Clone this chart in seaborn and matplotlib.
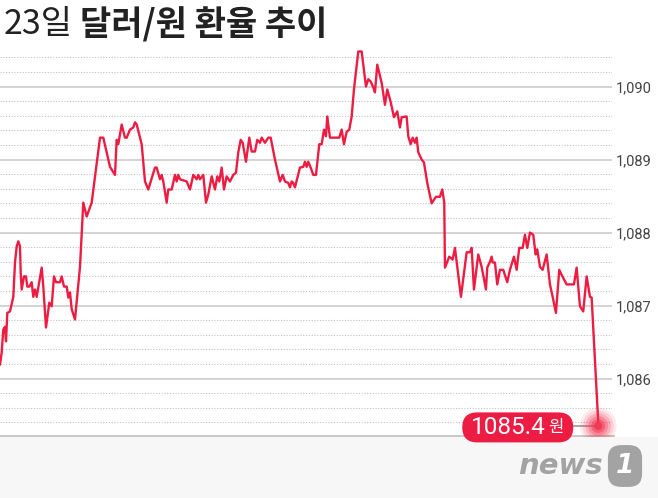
import numpy as np
import pandas as pd
import matplotlib.pyplot as plt
import seaborn as sns
from matplotlib.patches import FancyBboxPatch, Rectangle

# intraday time steps (chart units) and USD/KRW rate
t = [0, 1.7, 3.3, 5, 6, 7.3, 10, 13.3, 15, 16.7, 18.3, 20, 20.7, 21.7, 24, 26, 27.3, 29.3,
     31.7, 33.3, 35, 36.7, 38.3, 41.7, 43.3, 46, 49.3, 51.7, 54, 56, 60, 61.7, 64, 66.7,
     68.3, 70, 71.7, 75, 80, 83.3, 86.7, 91.7, 100, 103.3, 110, 115, 116.7, 118.3, 121.7,
     125, 126.7, 130, 133.3, 135, 136.7, 141.7, 145, 148.3, 155, 156.7, 160, 161.7, 163.3,
     166.7, 168.3, 171.7, 175, 176.7, 178.3, 180, 186.7, 190, 193.3, 196.7, 198.3, 200,
     203.3, 206, 208.3, 211.7, 215, 217.3, 219.3, 221.7, 224, 226.7, 230, 233.3, 236,
     238.3, 240.7, 242.7, 246, 249.3, 251.7, 255, 257.3, 260, 261.7, 265, 268.3, 270.7,
     275, 280, 282.7, 285, 288.3, 290, 291.7, 293.3, 295, 300, 303.3, 305, 306.7, 308.3,
     310.7, 313.3, 316, 319.3, 321.7, 324, 326, 327.3, 330, 336.7, 339.3, 341.7, 344,
     346.7, 349.3, 351.7, 354, 358.3, 361.7, 366, 368.3, 370.7, 373.3, 375, 377.3, 381.7,
     385, 387.3, 390.7, 394, 397.3, 400, 401.7, 406.7, 408.3, 410.7, 412.7, 415, 416.7,
     418.3, 421.7, 424, 427.3, 431.7, 436, 440, 442.3, 444.3, 445, 449.3, 452.7, 455,
     456.7, 461, 466.7, 470, 471.7, 474, 478.3, 481.7, 486, 487.3, 490, 491.7, 492.7, 495,
     497.3, 500, 503.3, 507.3, 510, 514, 516.7, 519.3, 522.7, 525, 527.3, 530, 533.3,
     535.7, 537.3, 540, 542.7, 546.7, 550, 552.7, 556, 559.3, 561.7, 566.7, 571.7, 574,
     576.7, 580, 583.3, 586.7, 590, 591.7, 598.3]
rate = [1086.19, 1086.36, 1086.67, 1086.71, 1086.51, 1086.90, 1086.92, 1087.12, 1087.59,
        1087.81, 1087.88, 1087.81, 1087.45, 1087.22, 1087.40, 1087.40, 1087.26, 1087.26,
        1087.32, 1087.12, 1087.22, 1087.12, 1087.25, 1087.52, 1087.26, 1086.70, 1087.04,
        1086.99, 1087.40, 1087.32, 1087.32, 1087.40, 1087.26, 1087.26, 1087.11, 1087.18,
        1086.95, 1086.81, 1087.53, 1088.41, 1088.22, 1088.41, 1089.30, 1089.30, 1088.90,
        1088.79, 1089.27, 1089.21, 1089.48, 1089.30, 1089.30, 1089.41, 1089.44, 1089.51,
        1089.48, 1089.21, 1088.70, 1088.59, 1088.89, 1088.89, 1088.73, 1088.79, 1088.70,
        1088.41, 1088.59, 1088.59, 1088.79, 1088.70, 1088.79, 1088.73, 1088.70, 1088.59,
        1088.79, 1088.73, 1088.79, 1088.73,
        1088.79, 1088.41, 1088.52, 1088.77, 1088.59, 1088.77, 1088.70, 1088.89, 1088.59,
        1088.77, 1088.70, 1088.79, 1088.82, 1089.10, 1089.27, 1089.23, 1088.97, 1089.30,
        1089.11, 1089.11, 1089.27, 1089.23, 1089.30, 1089.23, 1089.30, 1089.30, 1089.00,
        1088.70, 1088.79, 1088.70, 1088.68, 1088.62, 1088.70, 1088.68, 1088.62, 1088.89,
        1088.90, 1088.97, 1088.90, 1088.97, 1088.89, 1088.79, 1088.79, 1089.21, 1089.21,
        1089.41, 1089.32, 1089.59, 1089.30, 1089.30, 1089.30, 1089.41, 1089.21, 1089.38,
        1089.41, 1089.59, 1089.96, 1090.48, 1090.48, 1090.00, 1090.10, 1090.07, 1089.99,
        1089.92, 1090.30, 1090.05, 1089.75, 1089.96, 1089.79, 1089.58, 1089.66,
        1089.44, 1089.58, 1089.59, 1089.32, 1089.21, 1089.30, 1089.23, 1089.30, 1089.10,
        1089.00, 1088.96, 1088.68, 1088.40, 1088.49, 1088.49, 1088.59, 1088.41, 1087.52,
        1087.67, 1087.63, 1087.79, 1087.60, 1087.12, 1087.73, 1087.73, 1087.79, 1087.22,
        1087.70, 1087.53, 1087.22, 1087.52, 1087.60, 1087.67, 1087.59, 1087.59, 1087.29,
        1087.49, 1087.49, 1087.32, 1087.49, 1087.67, 1087.49, 1087.79, 1087.79, 1087.97,
        1087.79, 1088.00, 1087.97, 1087.70, 1087.77, 1087.53, 1087.49, 1087.70, 1087.29,
        1087.12, 1086.90, 1087.49, 1087.42, 1087.29, 1087.29, 1087.29, 1087.52, 1086.99,
        1086.92, 1087.40, 1087.12, 1087.11, 1085.40]
yticks = [1086, 1087, 1088, 1089, 1090]
ytick_labels = ["1,086", "1,087", "1,088", "1,089", "1,090"]
title_day = "23일"
title_main = "달러/원 환율 추이"
unit = "원"

RED = "#ec1c42"

sns.set_style("white")
plt.rcParams['font.family'] = ['Noto Sans CJK KR', 'DejaVu Sans']

fig = plt.figure(figsize=(6.58, 4.98), dpi=100)
fig.patch.set_facecolor("white")
# light grey band under the chart
fig.patches.append(Rectangle((0, 0), 1, 0.1225, transform=fig.transFigure,
                             facecolor="#f7f7f7", edgecolor="none", zorder=0))

ax = fig.add_axes([0, 0.1225, 0.930, 0.777])
ax.set_facecolor("white")
df = pd.DataFrame({"t": t, "rate": rate})
sns.lineplot(data=df, x="t", y="rate", ax=ax, color=RED, linewidth=1.7, zorder=5)

ax.set_xlim(0, 612)
ax.set_ylim(1085.2, 1090.5)
ax.set_yticks(yticks)
ax.set_yticklabels(ytick_labels)
ax.set_yticks(np.arange(1085.4, 1090.5, 0.2), minor=True)
ax.grid(which="major", axis="y", color="#cccccc", linewidth=1.2, linestyle="-")
ax.grid(which="minor", axis="y", color="#c2c2c2", linewidth=0.8, linestyle=(0, (1, 1.5)))
ax.grid(axis="x", visible=False)
ax.yaxis.tick_right()
ax.tick_params(axis="y", which="both", length=0, pad=3, labelsize=10.5, labelcolor="#444444")
for lab in ax.get_yticklabels():
    lab.set_family(["Roboto", "DejaVu Sans"])
ax.set_xticks([])
ax.set_xlabel("")
ax.set_ylabel("")
for s in ["top", "left", "right"]:
    ax.spines[s].set_visible(False)
ax.spines["bottom"].set_color("#c8c8c8")
ax.spines["bottom"].set_linewidth(3.5)

# glowing end point
t_end, v_end = t[-1], rate[-1]
for size, alpha in [(700, 0.1), (500, 0.14), (340, 0.2), (200, 0.3), (100, 0.45), (35, 0.8)]:
    ax.scatter([t_end], [v_end - 0.05], s=size, color="#f2334f", alpha=alpha,
               edgecolors="none", zorder=7, clip_on=False)
ax.hlines(v_end - 0.05, t_end - 28, t_end, color="#9a9a9a", linewidth=1.2, zorder=6)

# value pill
fig.canvas.draw()
px, py = ax.transData.transform((t_end, v_end))
pill = FancyBboxPatch((px - 136, py - 20), 111, 30, boxstyle="round,pad=0,rounding_size=15",
                      transform=None, facecolor=RED, edgecolor="none", zorder=8)
fig.patches.append(pill)
fig.text(px - 127, py - 5, f"{v_end:.1f}", transform=None, color="white", fontsize=17.5,
         family=["Roboto", "DejaVu Sans"], va="center", ha="left", zorder=9)
fig.text(px - 42, py - 5, unit, transform=None, color="white", fontsize=12,
         va="center", ha="center", zorder=9)

# title
H = fig.get_figheight() * fig.dpi
t1 = fig.text(4, H - 25, title_day, transform=None, fontsize=24.5, weight="light",
              color="#222222", va="center", ha="left")
fig.canvas.draw()
bb = t1.get_window_extent()
fig.text(bb.x1 + 7, H - 25, title_main, transform=None, fontsize=24.5, weight="bold",
         color="#222222", va="center", ha="left")

# news1 mark
fig.text(518, 32, "news", transform=None, fontsize=21, weight="heavy", style="italic",
         color="#a3a3a3", va="center", ha="left", family=["DejaVu Sans"])
fig.text(625, 32, "1", transform=None, fontsize=19, weight="heavy", style="italic",
         color="white", va="center", ha="center", family=["DejaVu Sans"],
         bbox=dict(boxstyle="round,pad=0.3,rounding_size=0.5", facecolor="#a3a3a3",
                   edgecolor="none"))

fig.savefig("out.png", dpi=100)
